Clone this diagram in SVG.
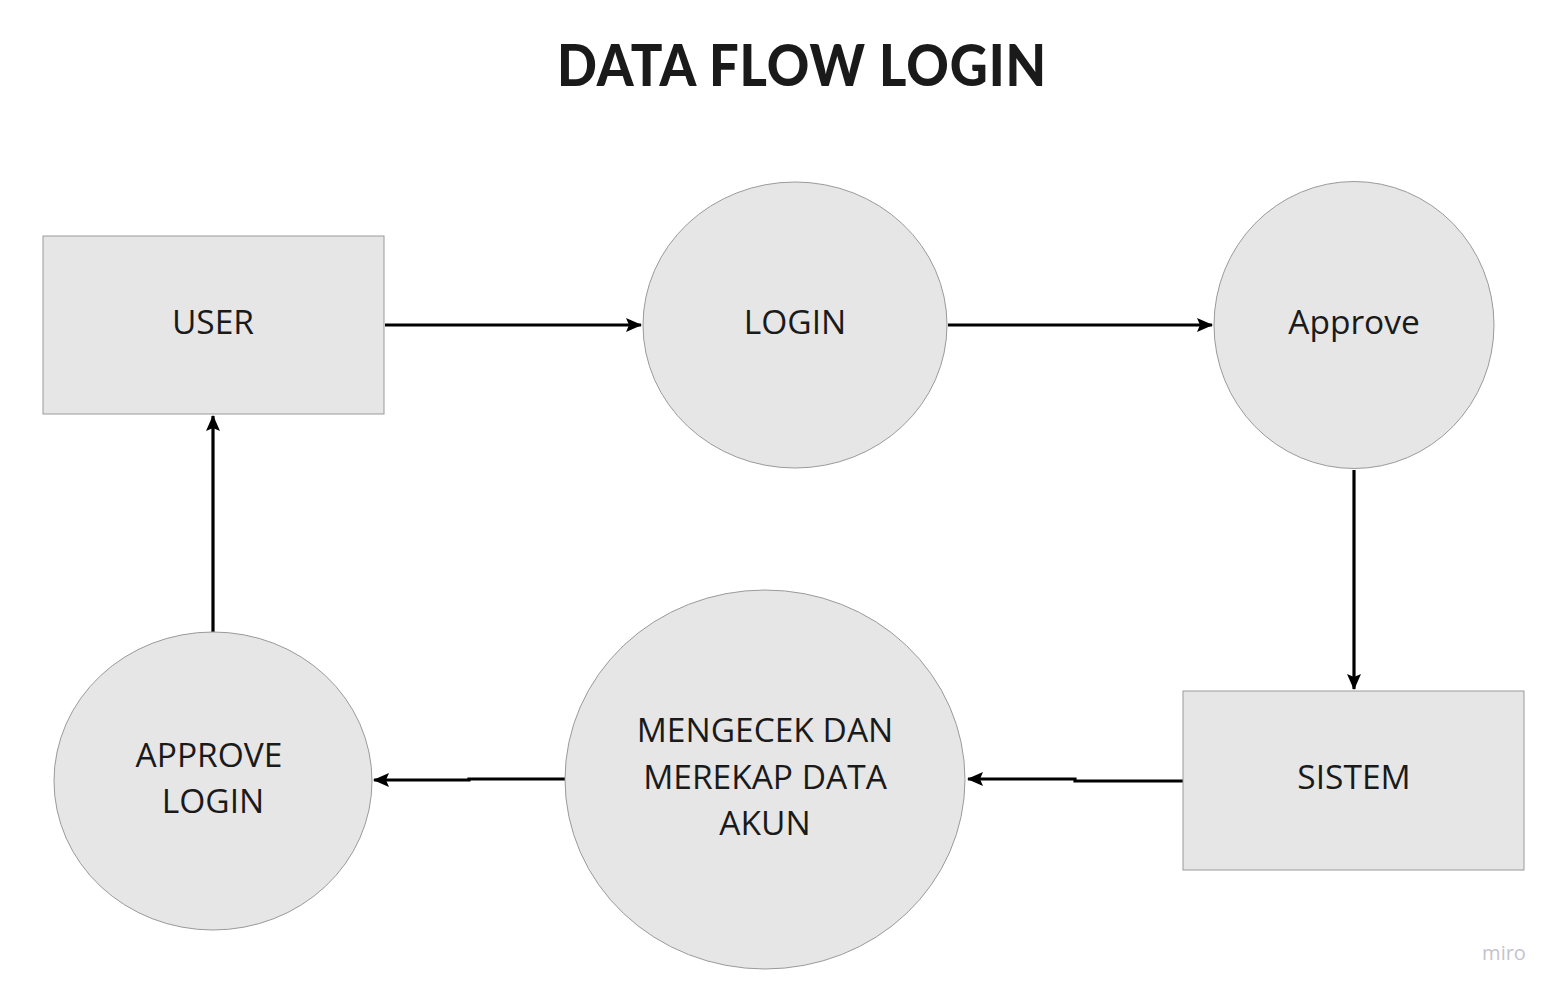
<svg xmlns="http://www.w3.org/2000/svg" width="1565" height="998" viewBox="0 0 1565 998">
<defs>
<style>
.node{fill:#e6e6e6;stroke:#9a9a9a;stroke-width:1}
.lbl{font-family:"Open Sans","Noto Sans",sans-serif;font-size:33.5px;fill:#1a1a1a;text-anchor:middle}
.edge{fill:none;stroke:#000;stroke-width:3.2}
</style>
<marker id="ah" viewBox="0 0 16 16" refX="15" refY="8" markerWidth="16" markerHeight="16" markerUnits="userSpaceOnUse" orient="auto">
<path d="M0,1 L16,8 L0,15 L3,8 Z" fill="#000"/>
</marker>
</defs>
<rect width="1565" height="998" fill="#fff"/>
<text x="802" y="86" font-family="Lato,'Open Sans',sans-serif" font-weight="900" font-size="58" fill="#1a1a1a" text-anchor="middle" letter-spacing="1" textLength="490" lengthAdjust="spacingAndGlyphs">DATA FLOW LOGIN</text>
<g id="connectors">
<path class="edge" d="M385,325 H641" marker-end="url(#ah)"/>
<path class="edge" d="M948,325 H1212" marker-end="url(#ah)"/>
<path class="edge" d="M1354,470 V689" marker-end="url(#ah)"/>
<path class="edge" d="M1183,781 H1075 V779 H968" marker-end="url(#ah)"/>
<path class="edge" d="M565,779 H469 V780 H374" marker-end="url(#ah)"/>
<path class="edge" d="M213,632 V416" marker-end="url(#ah)"/>
</g>
<g id="user">
<rect class="node" x="43" y="236" width="341" height="178"/>
<text class="lbl" x="213" y="334">USER</text>
</g>
<g id="login">
<ellipse class="node" cx="795" cy="325" rx="152" ry="143"/>
<text class="lbl" x="795" y="334">LOGIN</text>
</g>
<g id="approve">
<ellipse class="node" cx="1354" cy="325" rx="140" ry="143.5"/>
<text class="lbl" x="1354" y="334">Approve</text>
</g>
<g id="sistem">
<rect class="node" x="1183" y="691" width="341" height="179"/>
<text class="lbl" x="1354" y="789">SISTEM</text>
</g>
<g id="mengecek">
<ellipse class="node" cx="765" cy="779.5" rx="200" ry="189.5"/>
<text class="lbl" x="765" y="742">MENGECEK DAN</text>
<text class="lbl" x="765" y="789">MEREKAP DATA</text>
<text class="lbl" x="765" y="835">AKUN</text>
</g>
<g id="approve-login">
<ellipse class="node" cx="213" cy="781" rx="159" ry="149"/>
<text class="lbl" x="209" y="767">APPROVE</text>
<text class="lbl" x="213" y="813">LOGIN</text>
</g>
<text x="1504" y="960" font-family="'Open Sans',sans-serif" font-size="20" fill="#c4c4cc" text-anchor="middle">miro</text>
</svg>
